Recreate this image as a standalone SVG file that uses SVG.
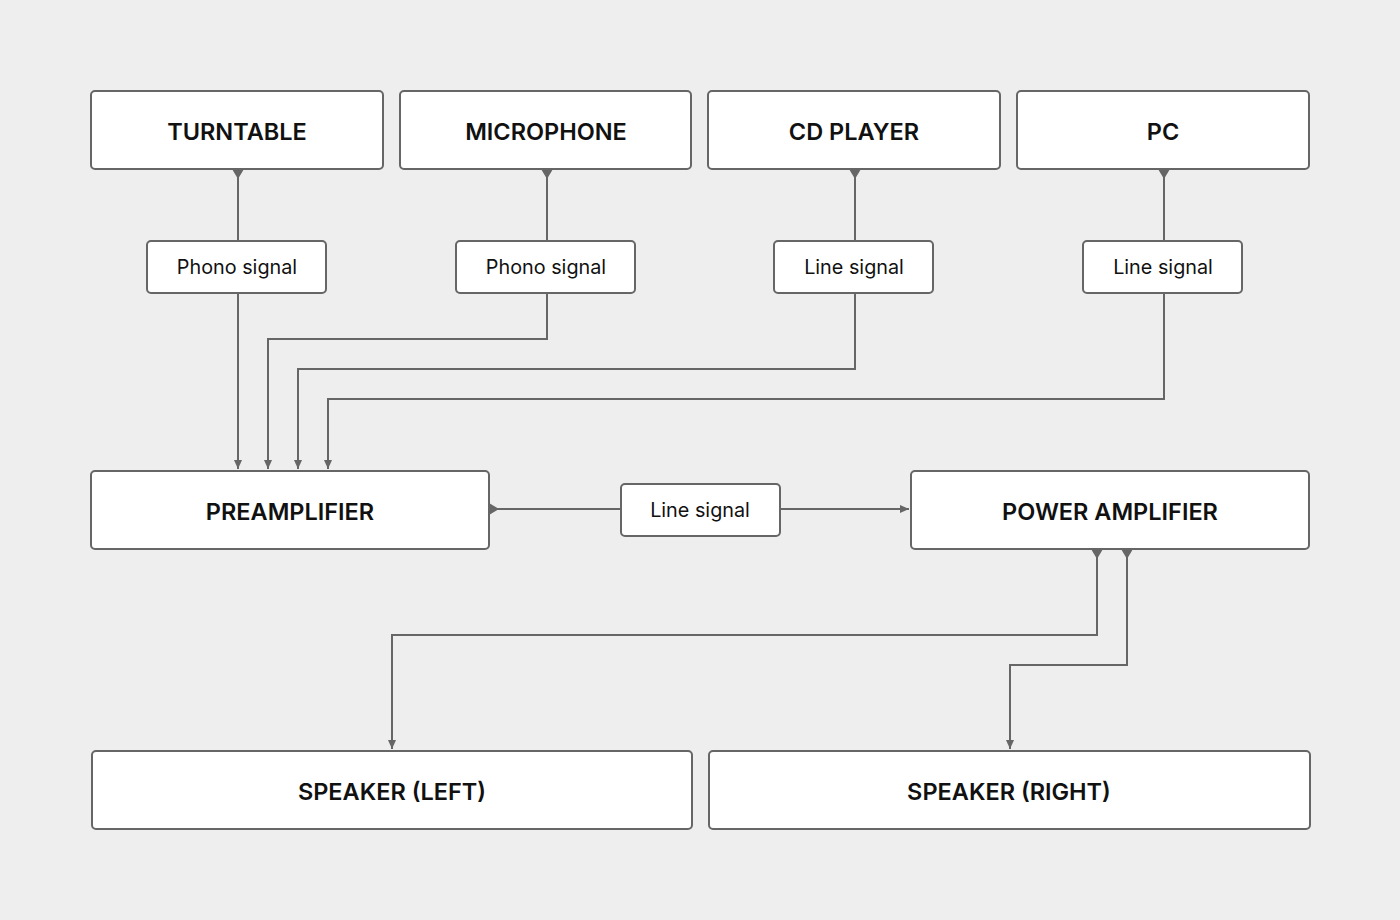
<svg xmlns="http://www.w3.org/2000/svg" width="1400" height="920" viewBox="0 0 1400 920">
<style>
.node{fill:#ffffff;stroke:#666666;stroke-width:2}
.t{font-family:Inter,"Liberation Sans",sans-serif;font-size:23.5px;font-weight:600;fill:#111111;text-anchor:middle;dominant-baseline:central}
.l{font-family:Inter,"Liberation Sans",sans-serif;font-size:19.8px;font-weight:400;fill:#111111;text-anchor:middle;dominant-baseline:central}
.c{fill:none;stroke:#666666;stroke-width:2}
</style>
<defs>
<marker id="end" markerWidth="10" markerHeight="10" refX="9" refY="5" orient="auto" markerUnits="userSpaceOnUse">
<path d="M0,1 L9,5 L0,9 Z" fill="#666666"/>
</marker>
<marker id="start" markerWidth="12" markerHeight="12" refX="1" refY="6" orient="auto" markerUnits="userSpaceOnUse">
<path d="M0,0 L10,6 L0,12 Z" fill="#666666"/>
</marker>
</defs>
<rect width="1400" height="920" fill="#eeeeee"/>
<g id="connectors">
<path class="c" d="M238,170 V241" marker-start="url(#start)"/>
<path class="c" d="M238,293 V469" marker-end="url(#end)"/>
<path class="c" d="M547,170 V241" marker-start="url(#start)"/>
<path class="c" d="M547,293 V339 H268 V469" marker-end="url(#end)"/>
<path class="c" d="M855,170 V241" marker-start="url(#start)"/>
<path class="c" d="M855,293 V369 H298 V469" marker-end="url(#end)"/>
<path class="c" d="M1164,170 V241" marker-start="url(#start)"/>
<path class="c" d="M1164,293 V399 H328 V469" marker-end="url(#end)"/>
<path class="c" d="M490,509 H621" marker-start="url(#start)"/>
<path class="c" d="M780,509 H909" marker-end="url(#end)"/>
<path class="c" d="M1097,550 V635 H392 V749" marker-start="url(#start)" marker-end="url(#end)"/>
<path class="c" d="M1127,550 V665 H1010 V749" marker-start="url(#start)" marker-end="url(#end)"/>
</g>
<g id="turntable"><rect class="node" x="91" y="91" width="292" height="78" rx="4"/><text class="t" x="237" y="131">TURNTABLE</text></g>
<g id="microphone"><rect class="node" x="400" y="91" width="291" height="78" rx="4"/><text class="t" x="546" y="131">MICROPHONE</text></g>
<g id="cdplayer"><rect class="node" x="708" y="91" width="292" height="78" rx="4"/><text class="t" x="854" y="131">CD PLAYER</text></g>
<g id="pc"><rect class="node" x="1017" y="91" width="292" height="78" rx="4"/><text class="t" x="1163" y="131">PC</text></g>
<g id="label-turntable"><rect class="node" x="147" y="241" width="179" height="52" rx="4"/><text class="l" x="237" y="267">Phono signal</text></g>
<g id="label-microphone"><rect class="node" x="456" y="241" width="179" height="52" rx="4"/><text class="l" x="546" y="267">Phono signal</text></g>
<g id="label-cd"><rect class="node" x="774" y="241" width="159" height="52" rx="4"/><text class="l" x="854" y="267">Line signal</text></g>
<g id="label-pc"><rect class="node" x="1083" y="241" width="159" height="52" rx="4"/><text class="l" x="1163" y="267">Line signal</text></g>
<g id="preamplifier"><rect class="node" x="91" y="471" width="398" height="78" rx="4"/><text class="t" x="290" y="511">PREAMPLIFIER</text></g>
<g id="label-preamp"><rect class="node" x="621" y="484" width="159" height="52" rx="4"/><text class="l" x="700" y="510">Line signal</text></g>
<g id="poweramp"><rect class="node" x="911" y="471" width="398" height="78" rx="4"/><text class="t" x="1110" y="511">POWER AMPLIFIER</text></g>
<g id="speaker-left"><rect class="node" x="92" y="751" width="600" height="78" rx="4"/><text class="t" x="392" y="791">SPEAKER (LEFT)</text></g>
<g id="speaker-right"><rect class="node" x="709" y="751" width="601" height="78" rx="4"/><text class="t" x="1009" y="791">SPEAKER (RIGHT)</text></g>
</svg>
